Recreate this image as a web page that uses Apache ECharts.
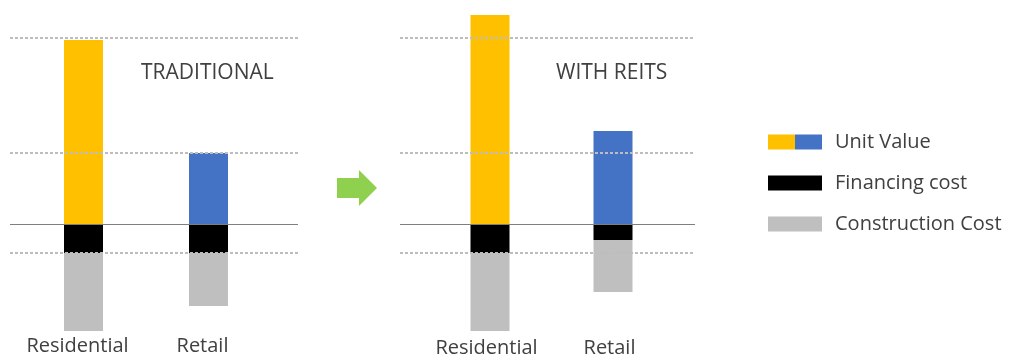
<!DOCTYPE html>
<html>
<head>
<meta charset="utf-8">
<script src="https://cdn.jsdelivr.net/npm/echarts@6/dist/echarts.min.js"></script>
<style>
html,body{margin:0;padding:0;background:#fff;}
#chart{width:1015px;height:363px;}
</style>
</head>
<body>
<div id="chart"></div>
<script>
// ---- data ----
var categories = ['Residential', 'Retail'];
var panelTitles = ['TRADITIONAL', 'WITH REITS'];
var seriesNames = ['Unit Value', 'Financing cost', 'Construction Cost'];
var tradUnitValue = [18.4, 7.1];
var tradFinancing = [-2.9, -2.9];
var tradConstruction = [-7.8, -5.3];
var reitUnitValue = [20.9, 9.3];
var reitFinancing = [-2.9, -1.6];
var reitConstruction = [-7.8, -5.2];
var refLevels = [18.6, 7.1, -2.9];
var unitColors = ['#FFC000', '#4472C4'];

// ---- styling ----
var FONT = '"Open Sans", Lato, sans-serif';
var TXT = '#404040';
var FIN = '#000000';
var CON = '#BFBFBF';
var YMIN = -11, YMAX = 22;

var chart = echarts.init(document.getElementById('chart'), null, {renderer: 'canvas'});

var grids = [
  {left: 10, width: 288, top: 4, height: 330},    // left lines
  {left: 21, width: 250, top: 4, height: 330},    // left bars
  {left: 400, width: 295, top: 4, height: 330},   // right lines
  {left: 428.5, width: 246, top: 4, height: 330}  // right bars
];

var xAxes = [], yAxes = [];
grids.forEach(function (g, i) {
  var isBar = (i % 2 === 1);
  if (isBar) {
    xAxes.push({
      gridIndex: i, type: 'category', data: categories,
      axisLine: {show: false, onZero: false}, axisTick: {show: false},
      axisLabel: {
        show: true, interval: 0, hideOverlap: false,
        color: TXT, fontFamily: FONT, fontSize: 20,
        margin: i === 1 ? 2 : 4,
        padding: i === 1 ? [0, 12, 0, 0] : [0, 7, 0, 0]
      }
    });
  } else {
    xAxes.push({gridIndex: i, type: 'value', min: 0, max: 1, show: false});
  }
  yAxes.push({gridIndex: i, type: 'value', min: YMIN, max: YMAX, show: false});
});

function refLineSeries(gi) {
  var lines = refLevels.map(function (v) {
    return {yAxis: v, lineStyle: {type: [3, 2], color: '#BDBDBD', width: 2}};
  });
  lines.push({yAxis: 0, lineStyle: {type: 'solid', color: '#7F7F7F', width: 1}});
  return {
    type: 'line', xAxisIndex: gi, yAxisIndex: gi, data: [], silent: true,
    markLine: {silent: true, symbol: 'none', label: {show: false}, data: lines, animation: false}
  };
}

function barSeries(gi, unit, fin, con, stackName) {
  return [
    {
      name: seriesNames[0], type: 'bar', stack: stackName, xAxisIndex: gi, yAxisIndex: gi,
      barWidth: 39,
      data: unit.map(function (v, k) { return {value: v, itemStyle: {color: unitColors[k]}}; }),
      itemStyle: {color: unitColors[0]}
    },
    {
      name: seriesNames[1], type: 'bar', stack: stackName, xAxisIndex: gi, yAxisIndex: gi,
      barWidth: 39, data: fin, itemStyle: {color: FIN}
    },
    {
      name: seriesNames[2], type: 'bar', stack: stackName, xAxisIndex: gi, yAxisIndex: gi,
      barWidth: 39, data: con, itemStyle: {color: CON}
    }
  ];
}

var series = [refLineSeries(0), refLineSeries(2)]
  .concat(barSeries(1, tradUnitValue, tradFinancing, tradConstruction, 'trad'))
  .concat(barSeries(3, reitUnitValue, reitFinancing, reitConstruction, 'reit'));

var option = {
  animation: false,
  backgroundColor: '#ffffff',
  grid: grids,
  xAxis: xAxes,
  yAxis: yAxes,
  title: [
    {text: panelTitles[0], left: 141, top: 63, padding: 0,
     textStyle: {fontFamily: FONT, fontSize: 21, fontWeight: 'normal', color: TXT}},
    {text: panelTitles[1], left: 556, top: 63, padding: 0,
     textStyle: {fontFamily: FONT, fontSize: 21, fontWeight: 'normal', color: TXT}}
  ],
  legend: {
    orient: 'vertical', left: 768, top: 132, padding: 0,
    itemWidth: 54, itemHeight: 15, itemGap: 21, icon: 'rect',
    selectedMode: false,
    textStyle: {fontFamily: FONT, fontSize: 20, color: TXT, lineHeight: 15, height: 15, padding: [0, 0, 0, 8]},
    data: [
      {name: seriesNames[0], itemStyle: {color: {
        type: 'linear', x: 0, y: 0, x2: 1, y2: 0,
        colorStops: [
          {offset: 0, color: unitColors[0]}, {offset: 0.5, color: unitColors[0]},
          {offset: 0.5, color: unitColors[1]}, {offset: 1, color: unitColors[1]}
        ]}}},
      {name: seriesNames[1], itemStyle: {color: FIN}},
      {name: seriesNames[2], itemStyle: {color: CON}}
    ]
  },
  graphic: [
    {
      type: 'polygon', silent: true,
      shape: {points: [[337, 178], [359, 178], [359, 170], [377, 188], [359, 206], [359, 198], [337, 198]]},
      style: {fill: '#8FD14F'}
    }
  ],
  series: series
};
chart.setOption(option);
</script>
</body>
</html>
